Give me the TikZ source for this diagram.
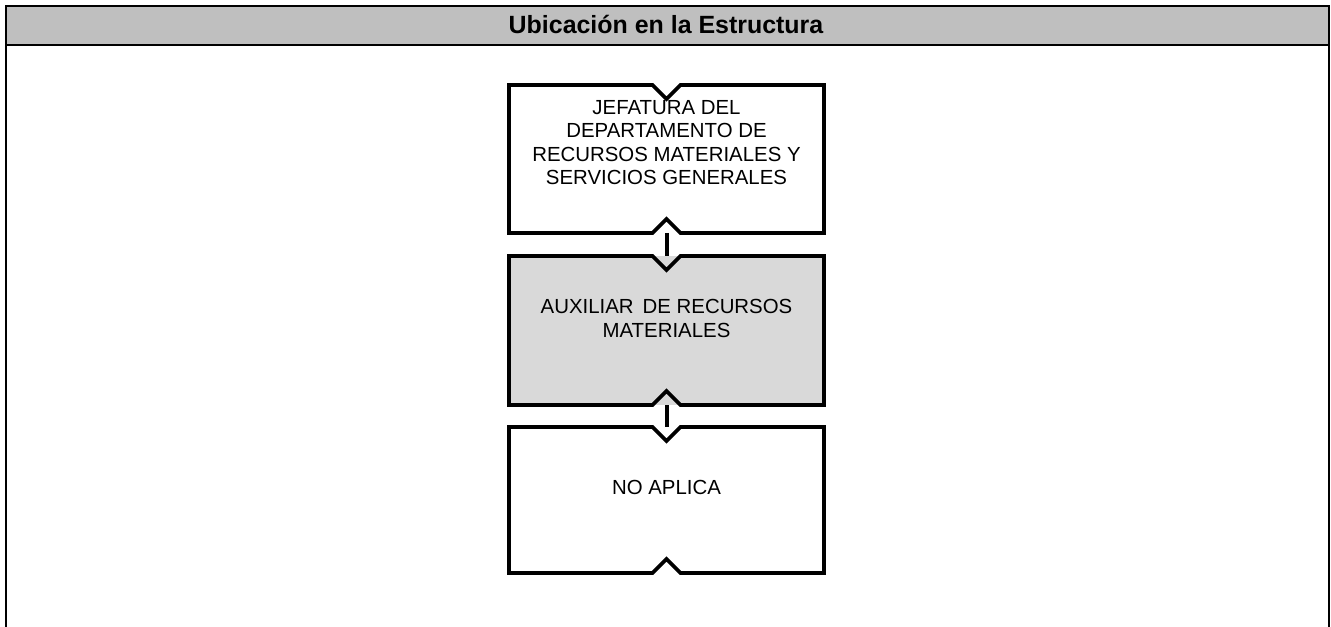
\documentclass[tikz,border=0pt]{standalone}
\usepackage{fontspec}
\setmainfont{Liberation Sans}
\usetikzlibrary{calc}
\definecolor{headgray}{HTML}{BFBFBF}
\definecolor{boxgray}{HTML}{D9D9D9}
\newcommand\notchoutline[1]{%
  \draw[boxline] (#1.north west) -- ($(#1.north)+(-14,0)$) -- ($(#1.north)+(0,14)$) -- ($(#1.north)+(14,0)$) -- (#1.north east)
    -- (#1.south east) -- ($(#1.south)+(14,0)$) -- ($(#1.south)+(0,-14)$) -- ($(#1.south)+(-14,0)$) -- (#1.south west) -- cycle;}
\begin{document}
\begin{tikzpicture}[x=0.75pt,y=-0.75pt,
  framelines/.style={line width=1.6pt,line cap=rect},
  boxline/.style={line width=2.7pt,line join=miter},
  orgbox/.style={rectangle,inner sep=0pt,outer sep=0pt,minimum width=236.25pt,draw=none},
  boxtext/.style={align=center,font=\fontsize{15.3}{17.6}\selectfont,inner sep=0pt},
  conn/.style={line width=3pt}]
\useasboundingbox (0,0) rectangle (1331,627);
% header
\fill[headgray] (6,6) rectangle (1329,45);
\draw[framelines] (6,627) -- (6,6) -- (1329,6) -- (1329,627);
\draw[line width=1.8pt] (6,45) -- (1329,45);
\node[font=\bfseries\fontsize{18.7}{22}\selectfont,anchor=base,inner sep=0pt] (title) at (666,34) {Ubicación en la Estructura};
% boxes
\node[orgbox,minimum height=111pt,fill=white] (b1) at (666.5,159) {};
\node[orgbox,minimum height=111.75pt,fill=boxgray] (b2) at (666.5,330.5) {};
\node[orgbox,minimum height=109.5pt,fill=white] (b3) at (666.5,500) {};
\notchoutline{b1}
\notchoutline{b2}
\notchoutline{b3}
\node[boxtext] (t1) at (666.5,142.5) {JEFATURA DEL\\DEPARTAMENTO DE\\RECURSOS MATERIALES Y\\SERVICIOS GENERALES};
\node[boxtext] (t2) at (666.5,318.5) {AUXILIAR\, DE RECURSOS\\MATERIALES};
\node[boxtext] (t3) at (666.5,487) {NO APLICA};
% connectors
\draw[conn] (b1.south) -- (b2.north);
\draw[conn] (b2.south) -- (b3.north);
\end{tikzpicture}
\end{document}
